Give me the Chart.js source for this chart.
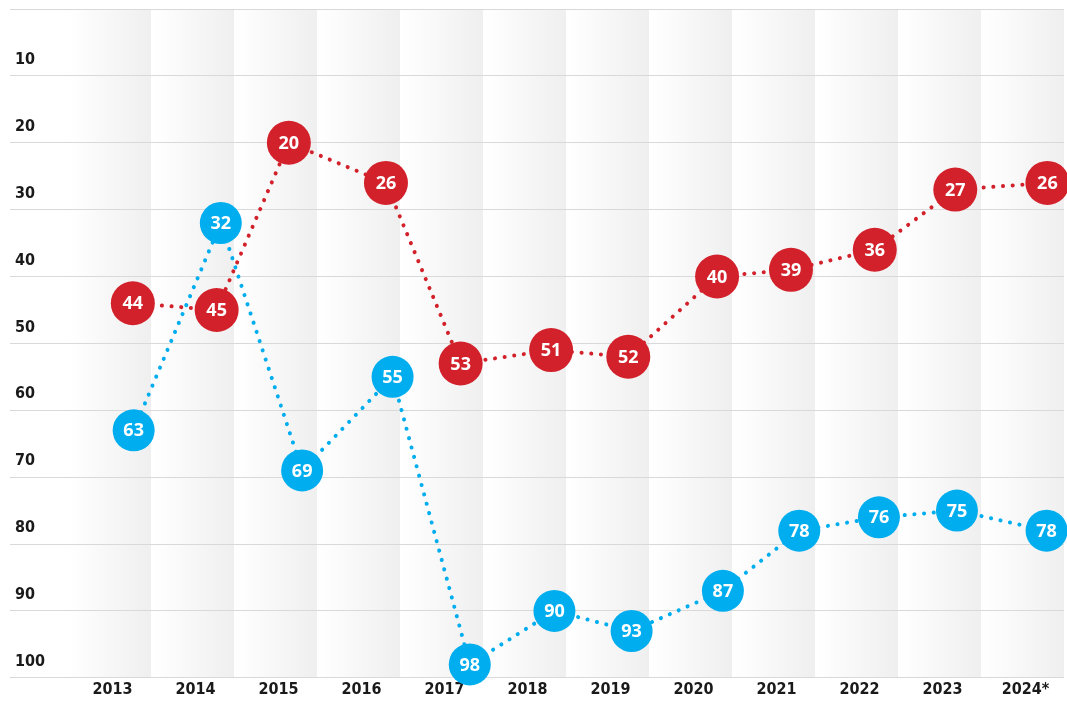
<!DOCTYPE html>
<html>
<head>
<meta charset="utf-8">
<script src="https://cdn.jsdelivr.net/npm/chart.js@4.4.1/dist/chart.umd.min.js"></script>
<style>
  html, body { margin: 0; padding: 0; background: #fff; }
  #box { width: 1067px; height: 701px; }
</style>
</head>
<body>
<div id="box"><canvas id="rank-chart"></canvas></div>
<script>
// years on the axis and their labels
const years = [2013, 2014, 2015, 2016, 2017, 2018, 2019, 2020, 2021, 2022, 2023, 2024];
const yearLabels = ['2013', '2014', '2015', '2016', '2017', '2018', '2019', '2020', '2021', '2022', '2023', '2024*'];

// red series: position inside the year column and rank
const redX = [2013.28, 2014.29, 2015.16, 2016.33, 2017.23, 2018.32, 2019.25, 2020.32, 2021.21, 2022.22, 2023.19, 2024.30];
const redRank = [44, 45, 20, 26, 53, 51, 52, 40, 39, 36, 27, 26];

// blue series
const blueX = [2013.29, 2014.34, 2015.32, 2016.41, 2017.34, 2018.36, 2019.29, 2020.39, 2021.31, 2022.27, 2023.21, 2024.29];
const blueRank = [63, 32, 69, 55, 98, 90, 93, 87, 78, 76, 75, 78];

const rankTicks = [10, 20, 30, 40, 50, 60, 70, 80, 90, 100];

const RED = '#d3212b';
const BLUE = '#00adee';

function toPoints(xs, ys) {
    return xs.map((x, i) => ({ x: x, y: ys[i] }));
}

// stop the scales from pushing the chart area in
function noPadding(scale) {
    scale.paddingLeft = 0;
    scale.paddingRight = 0;
    scale.paddingTop = 0;
    scale.paddingBottom = 0;
}

// gradient bands behind each year column
const bandsPlugin = {
    id: 'bands',
    beforeDraw(chart) {
        const ctx = chart.ctx;
        const area = chart.chartArea;
        const xs = chart.scales.x;
        ctx.save();
        years.forEach(y => {
            const l = xs.getPixelForValue(y - 0.5);
            const r = xs.getPixelForValue(y + 0.5);
            const g = ctx.createLinearGradient(l, 0, r, 0);
            g.addColorStop(0, 'rgba(255,255,255,1)');
            g.addColorStop(0.15, 'rgba(253,253,253,1)');
            g.addColorStop(1, 'rgba(239,239,239,1)');
            ctx.fillStyle = g;
            ctx.fillRect(l, area.top, r - l, area.bottom - area.top);
        });
        ctx.restore();
    }
};

// rank numbers inside the circles
const valueLabels = {
    id: 'valueLabels',
    afterDatasetsDraw(chart) {
        const ctx = chart.ctx;
        ctx.save();
        ctx.fillStyle = '#ffffff';
        ctx.font = 'bold 18px "Open Sans"';
        ctx.textAlign = 'center';
        ctx.textBaseline = 'middle';
        chart.data.datasets.forEach((ds, i) => {
            chart.getDatasetMeta(i).data.forEach((pt, j) => {
                ctx.fillText(String(ds.data[j].y), pt.x, pt.y + 1);
            });
        });
        ctx.restore();
    }
};

const chartCtx = document.getElementById('rank-chart').getContext('2d');

new Chart(chartCtx, {
    type: 'line',
    data: {
        datasets: [{
            label: 'red',
            data: toPoints(redX, redRank),
            borderColor: RED,
            backgroundColor: RED,
            pointBackgroundColor: RED,
            pointBorderWidth: 0,
            pointRadius: 22,
            pointHoverRadius: 22,
            borderWidth: 4,
            borderDash: [0.1, 9.6],
            borderCapStyle: 'round',
            fill: false,
            clip: false
        },
        {
            label: 'blue',
            data: toPoints(blueX, blueRank),
            borderColor: BLUE,
            backgroundColor: BLUE,
            pointBackgroundColor: BLUE,
            pointBorderWidth: 0,
            pointRadius: 21,
            pointHoverRadius: 21,
            borderWidth: 4,
            borderDash: [0.1, 9.6],
            borderCapStyle: 'round',
            fill: false,
            clip: false
        }]
    },
    options: {
        responsive: true,
        maintainAspectRatio: false,
        animation: false,
        layout: { autoPadding: false, padding: { left: 0, right: 3, top: 9, bottom: 0 } },
        plugins: {
            legend: { display: false },
            tooltip: { enabled: false }
        },
        scales: {
            x: {
                type: 'linear',
                min: 2011.8,
                max: 2024.5,
                afterBuildTicks: scale => {
                    scale.ticks = years.map(v => ({ value: v }));
                },
                afterFit: noPadding,
                grid: { display: false, drawTicks: false },
                border: { display: false },
                ticks: {
                    padding: 2,
                    labelOffset: 3,
                    color: '#1a1a1a',
                    font: { family: '"DejaVu Sans Condensed", "DejaVu Sans"', size: 16, weight: 'bold' },
                    callback: (v) => yearLabels[years.indexOf(v)]
                }
            },
            y: {
                reverse: true,
                min: 0,
                max: 100,
                afterBuildTicks: scale => {
                    scale.ticks = [0].concat(rankTicks).map(v => ({ value: v }));
                },
                afterFit: noPadding,
                grid: { color: '#d9d9d9', lineWidth: 1, drawTicks: false },
                border: { display: false },
                ticks: {
                    mirror: true,
                    padding: 5,
                    labelOffset: -16,
                    color: '#1a1a1a',
                    font: { family: '"DejaVu Sans Condensed", "DejaVu Sans"', size: 16, weight: 'bold' },
                    callback: (v) => (v === 0 ? '' : String(v))
                }
            }
        }
    },
    plugins: [bandsPlugin, valueLabels]
});
</script>
</body>
</html>
